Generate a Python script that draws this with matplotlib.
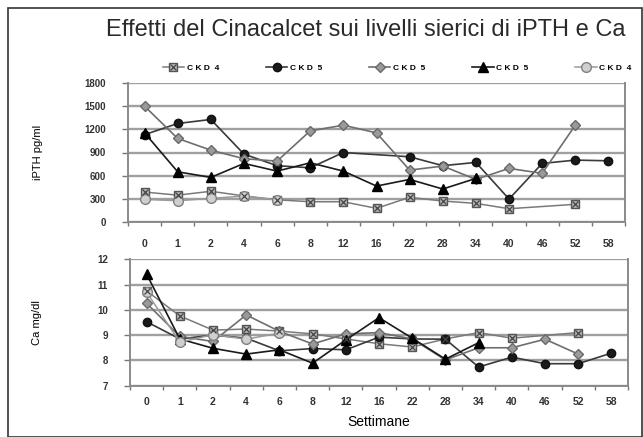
import numpy as np
import matplotlib
matplotlib.use("Agg")
import matplotlib.pyplot as plt
from matplotlib.patches import Rectangle
from matplotlib.legend_handler import HandlerTuple

plt.rcParams['font.family'] = ['Liberation Sans', 'DejaVu Sans']

weeks = ["0", "1", "2", "4", "6", "8", "12", "16", "22", "28", "34", "40", "46", "52", "58"]
nan = np.nan

# iPTH pg/ml
pth_ckd4_x = [390, 350, 400, 340, 290, 265, 265, 180, 322, 274, 244, 175, nan, 232, nan]
pth_ckd5_c = [1130, 1274, 1326, 879, 730, 703, 900, nan, 845, 730, 772, 300, 759, 802, 793]
pth_ckd5_d = [1497, 1081, 930, 820, 789, 1179, 1252, 1153, 673, 725, 553, 695, 631, 1252, nan]
pth_ckd5_t = [1153, 651, 579, 759, 660, 767, 660, 467, 553, 429, 566, nan, nan, nan, nan]
pth_ckd4_o = [296, 278, 309, 338, 287, nan, nan, nan, nan, nan, nan, nan, nan, nan, nan]

# Ca mg/dl
ca_ckd4_x = [10.75, 9.76, 9.2, 9.24, 9.16, 9.05, 8.85, 8.66, 8.53, 8.85, 9.1, 8.88, nan, 9.1, nan]
ca_ckd5_c = [9.53, 8.85, 9.0, 8.88, 8.38, 8.47, 8.42, 8.92, 8.85, 8.84, 7.74, 8.13, 7.87, 7.87, 8.29]
ca_ckd5_d = [10.26, 8.95, 8.75, 9.8, 9.15, 8.65, 9.05, 9.1, 8.85, 8.02, 8.5, 8.5, 8.84, 8.25, nan]
ca_ckd5_t = [11.41, 8.85, 8.48, 8.25, 8.42, 7.89, 8.81, 9.69, 8.88, 8.05, 8.7, nan, nan, nan, nan]
ca_ckd4_o = [10.7, 8.72, 9.02, 8.84, 9.08, nan, nan, nan, nan, nan, nan, nan, nan, nan, nan]

labels = ["C K D  4", "C K D  5", "C K D  5", "C K D  5", "C K D  4"]

styles = [
    dict(color='#7a7a7a', marker='s', mfc='#b8b8b8', mec='#555555', ms=5.5, lw=1.1),
    dict(color='#3a3a3a', marker='o', mfc='#1a1a1a', mec='#111111', ms=6, lw=1.2),
    dict(color='#6e6e6e', marker='D', mfc='#9a9a9a', mec='#6a6a6a', ms=5, lw=1.2),
    dict(color='#1a1a1a', marker='^', mfc='#000000', mec='#000000', ms=6.5, lw=1.2),
    dict(color='#9a9a9a', marker='o', mfc='#cfcfcf', mec='#808080', ms=7, lw=1.1),
]

W, H = 643, 437
fig = plt.figure(figsize=(W / 100, H / 100), dpi=100)

def ax_rect(l, t, r, b):
    return [l / W, 1 - b / H, (r - l) / W, (b - t) / H]

ax1 = fig.add_axes(ax_rect(128, 82.7, 625, 222.3))
ax2 = fig.add_axes(ax_rect(130, 259.3, 628, 385.7))

x = np.arange(len(weeks))

def draw(ax, series):
    handles = []
    for vals, st in zip(series, styles):
        v = np.array(vals, dtype=float)
        m = ~np.isnan(v)
        h, = ax.plot(x[m], v[m], zorder=3, **st)
        hh = [h]
        if st['marker'] == 's':
            h2, = ax.plot(x[m], v[m], ls='none', marker='x', ms=4, mew=0.9,
                          color='#444444', zorder=4)
            hh.append(h2)
        handles.append(tuple(hh))
    return handles

def style(ax, ylo, yhi, ystep, ypad_labels):
    ax.set_xlim(-0.5, len(weeks) - 0.5)
    ax.set_ylim(ylo, yhi)
    yt = np.arange(ylo, yhi + ystep / 2, ystep)
    ax.set_yticks(yt)
    ax.set_yticklabels([str(int(t)) for t in yt], fontsize=7, fontweight='bold', color='#333333')
    ax.yaxis.grid(True, color='#a0a0a0', lw=1.7, zorder=0)
    ax.set_axisbelow(True)
    ax.set_xticks(x)
    ax.set_xticklabels(weeks, fontsize=7.5, fontweight='bold', color='#333333')
    ax.set_xticks(np.arange(-0.5, len(weeks) + 0.5, 1), minor=True)
    ax.tick_params(axis='x', which='major', length=0, pad=ypad_labels)
    ax.tick_params(axis='x', which='minor', length=3, width=1, color='#777777', direction='out')
    ax.tick_params(axis='y', length=4, width=1, color='#777777', pad=12)
    for s in ['left', 'bottom', 'right']:
        ax.spines[s].set_color('#8a8a8a')
        ax.spines[s].set_linewidth(1.4)
    ax.spines['top'].set_visible(False)

h1 = draw(ax1, [pth_ckd4_x, pth_ckd5_c, pth_ckd5_d, pth_ckd5_t, pth_ckd4_o])
draw(ax2, [ca_ckd4_x, ca_ckd5_c, ca_ckd5_d, ca_ckd5_t, ca_ckd4_o])
style(ax1, 0, 1800, 300, 12)
style(ax2, 7, 12, 1, 8)

ax1.set_ylabel("iPTH pg/ml", fontsize=8)
ax2.set_ylabel("Ca mg/dl", fontsize=8)
ax1.yaxis.set_label_coords(-0.172, 0.5)
ax2.yaxis.set_label_coords(-0.176, 0.5)
ax2.set_xlabel("Settimane", fontsize=10, labelpad=6)

fig.text(366 / W, 1 - 30 / H, "Effetti del Cinacalcet sui livelli sierici di iPTH e Ca",
         ha='center', va='center', fontsize=17, color='#2a2a2a')

fig.legend(h1, labels, loc='center', bbox_to_anchor=(397 / W, 1 - 68 / H), ncol=5,
           frameon=False, prop={'weight': 'bold', 'size': 6},
           handlelength=2.6, handletextpad=0.3, columnspacing=5.6,
           handler_map={tuple: HandlerTuple(ndivide=1)})

fig.patches.append(Rectangle((8 / W, 0.5 / H), (W - 9) / W, (H - 8) / H, transform=fig.transFigure,
                             fill=False, lw=1.2, ec='#333333'))

fig.savefig("out.png", dpi=100)
